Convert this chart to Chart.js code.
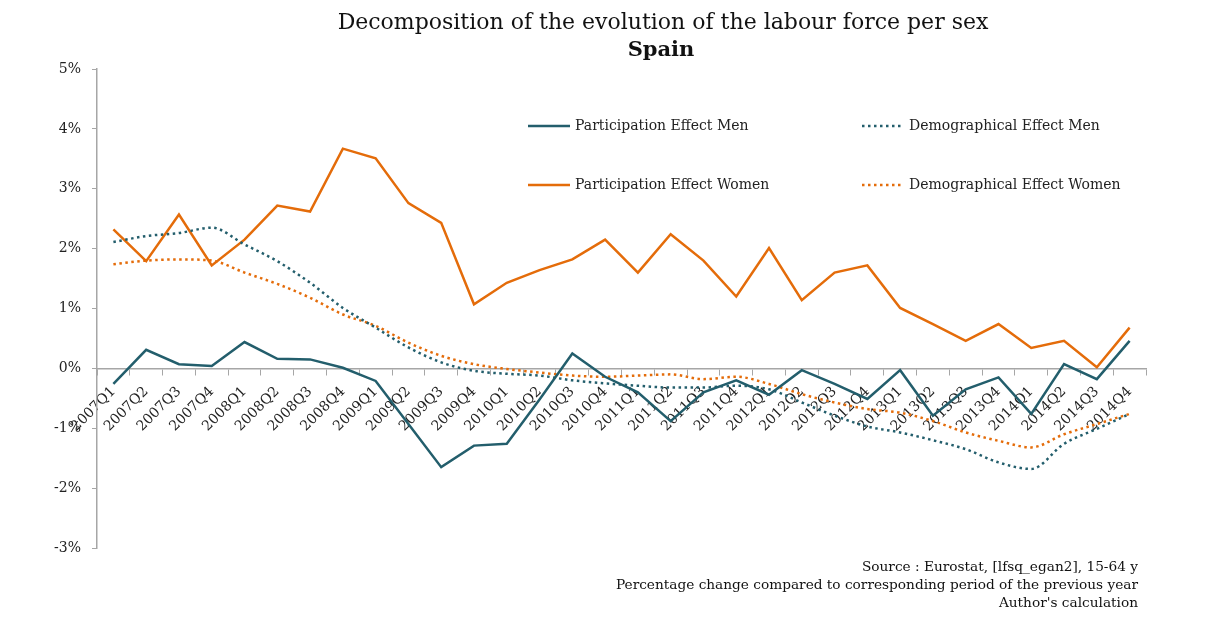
<!DOCTYPE html>
<html>
<head>
<meta charset="utf-8">
<script src="https://cdn.jsdelivr.net/npm/chart.js@4.4.0/dist/chart.umd.min.js"></script>
<style>
  html, body { margin: 0; padding: 0; background: #fff; }
  #wrap { position: relative; width: 1226px; height: 637px; }
</style>
</head>
<body>
<div id="wrap"><canvas id="chart" width="1226" height="637"></canvas></div>
<script>
// Quarters 2007Q1 .. 2014Q4
const quarters = [
  '2007Q1', '2007Q2', '2007Q3', '2007Q4', '2008Q1', '2008Q2', '2008Q3', '2008Q4',
  '2009Q1', '2009Q2', '2009Q3', '2009Q4', '2010Q1', '2010Q2', '2010Q3', '2010Q4',
  '2011Q1', '2011Q2', '2011Q3', '2011Q4', '2012Q1', '2012Q2', '2012Q3', '2012Q4',
  '2013Q1', '2013Q2', '2013Q3', '2013Q4', '2014Q1', '2014Q2', '2014Q3', '2014Q4'
];

// values in %
const participationMen = [
  -0.26, 0.31, 0.07, 0.04, 0.44, 0.16, 0.15, 0.01,
  -0.21, -0.93, -1.65, -1.29, -1.26, -0.52, 0.25, -0.14,
  -0.40, -0.88, -0.40, -0.20, -0.44, -0.03, -0.26, -0.51,
  -0.03, -0.79, -0.35, -0.15, -0.76, 0.07, -0.18, 0.46
];
const demographicMen = [
  2.11, 2.21, 2.26, 2.35, 2.07, 1.79, 1.43, 1.01,
  0.68, 0.35, 0.10, -0.04, -0.09, -0.12, -0.20, -0.25,
  -0.29, -0.32, -0.32, -0.29, -0.35, -0.57, -0.79, -0.97,
  -1.07, -1.20, -1.35, -1.57, -1.68, -1.26, -1.01, -0.76
];
const participationWomen = [
  2.32, 1.79, 2.57, 1.72, 2.15, 2.72, 2.62, 3.67,
  3.51, 2.76, 2.43, 1.07, 1.43, 1.64, 1.82, 2.15,
  1.60, 2.24, 1.80, 1.20, 2.01, 1.14, 1.60, 1.72,
  1.01, 0.74, 0.46, 0.74, 0.34, 0.46, 0.02, 0.68
];
const demographicWomen = [
  1.74, 1.80, 1.82, 1.80, 1.60, 1.41, 1.18, 0.90,
  0.71, 0.43, 0.21, 0.07, -0.01, -0.07, -0.12, -0.14,
  -0.12, -0.10, -0.18, -0.14, -0.26, -0.43, -0.57, -0.68,
  -0.74, -0.88, -1.07, -1.21, -1.32, -1.10, -0.93, -0.76
];
const yTicks = [-3, -2, -1, 0, 1, 2, 3, 4, 5];

const TEAL = '#235e6c';
const ORANGE = '#e46c0a';
const SERIF = '"DejaVu Serif", "Liberation Serif", serif';

// title, legend and source notes drawn on the canvas
const decorations = {
  id: 'decorations',
  beforeDraw(chart) {
    const ctx = chart.ctx;
    ctx.save();
    ctx.fillStyle = '#fff';
    ctx.fillRect(0, 0, chart.width, chart.height);
    ctx.restore();
  },
  afterDraw(chart) {
    const ctx = chart.ctx;
    ctx.save();
    ctx.fillStyle = '#111';
    ctx.textAlign = 'center';
    ctx.textBaseline = 'alphabetic';
    ctx.font = '22px ' + SERIF;
    ctx.fillText('Decomposition of the evolution of the labour force per sex', 663, 29);
    ctx.font = 'bold 21px ' + SERIF;
    ctx.fillText('Spain', 661, 56);

    // legend, 2 columns inside the plot
    const items = [
      { i: 0, x: 528, y: 126 },
      { i: 1, x: 862, y: 126 },
      { i: 2, x: 528, y: 185 },
      { i: 3, x: 862, y: 185 }
    ];
    ctx.font = '14px ' + SERIF;
    ctx.textAlign = 'left';
    ctx.textBaseline = 'middle';
    items.forEach(it => {
      const ds = chart.data.datasets[it.i];
      ctx.strokeStyle = ds.borderColor;
      ctx.lineWidth = ds.borderWidth;
      ctx.setLineDash(ds.borderDash || []);
      ctx.beginPath();
      ctx.moveTo(it.x, it.y);
      ctx.lineTo(it.x + 42, it.y);
      ctx.stroke();
      ctx.setLineDash([]);
      ctx.fillStyle = '#222';
      ctx.fillText(ds.label, it.x + 47, it.y);
    });

    // source notes
    ctx.font = '13.7px ' + SERIF;
    ctx.textAlign = 'right';
    ctx.textBaseline = 'alphabetic';
    ctx.fillStyle = '#111';
    ctx.fillText('Source : Eurostat, [lfsq_egan2], 15-64 y', 1138, 571);
    ctx.fillText('Percentage change compared to corresponding period of the previous year', 1138, 589);
    ctx.fillText("Author's calculation", 1138, 607);
    ctx.restore();
  }
};

new Chart(document.getElementById('chart'), {
  type: 'line',
  data: {
    labels: quarters,
    datasets: [
      {
        label: 'Participation Effect Men',
        data: participationMen,
        borderColor: TEAL,
        borderWidth: 2.5,
        tension: 0
      },
      {
        label: 'Demographical Effect Men',
        data: demographicMen,
        borderColor: TEAL,
        borderWidth: 2.5,
        borderDash: [2.5, 3.5],
        tension: 0.4,
        cubicInterpolationMode: 'monotone'
      },
      {
        label: 'Participation Effect Women',
        data: participationWomen,
        borderColor: ORANGE,
        borderWidth: 2.5,
        tension: 0
      },
      {
        label: 'Demographical Effect Women',
        data: demographicWomen,
        borderColor: ORANGE,
        borderWidth: 2.5,
        borderDash: [2.5, 3.5],
        tension: 0.4,
        cubicInterpolationMode: 'monotone'
      }
    ]
  },
  options: {
    responsive: false,
    animation: false,
    layout: { padding: { left: 0, top: 69, right: 80, bottom: 89 } },
    elements: { point: { radius: 0 } },
    plugins: {
      legend: { display: false },
      title: { display: false },
      tooltip: { enabled: false }
    },
    scales: {
      x: {
        type: 'category',
        offset: true,
        position: { y: 0 },
        border: { display: true, color: '#a6a6a6', width: 1.5 },
        grid: {
          offset: true,
          drawOnChartArea: false,
          drawTicks: true,
          tickLength: 6,
          color: '#a6a6a6'
        },
        ticks: {
          autoSkip: false,
          minRotation: 45,
          maxRotation: 45,
          padding: 9,
          color: '#222',
          font: { family: SERIF, size: 14 }
        }
      },
      y: {
        min: -3,
        max: 5,
        afterBuildTicks(scale) {
          scale.ticks = yTicks.map(v => ({ value: v }));
        },
        afterFit(scale) {
          scale.width = 97;
        },
        border: { display: true, color: '#a6a6a6', width: 1.5 },
        grid: {
          drawOnChartArea: false,
          drawTicks: true,
          tickLength: 5,
          color: '#a6a6a6'
        },
        ticks: {
          padding: 11,
          color: '#222',
          font: { family: SERIF, size: 14 },
          callback: v => v + '%'
        }
      }
    }
  },
  plugins: [decorations]
});
</script>
</body>
</html>
